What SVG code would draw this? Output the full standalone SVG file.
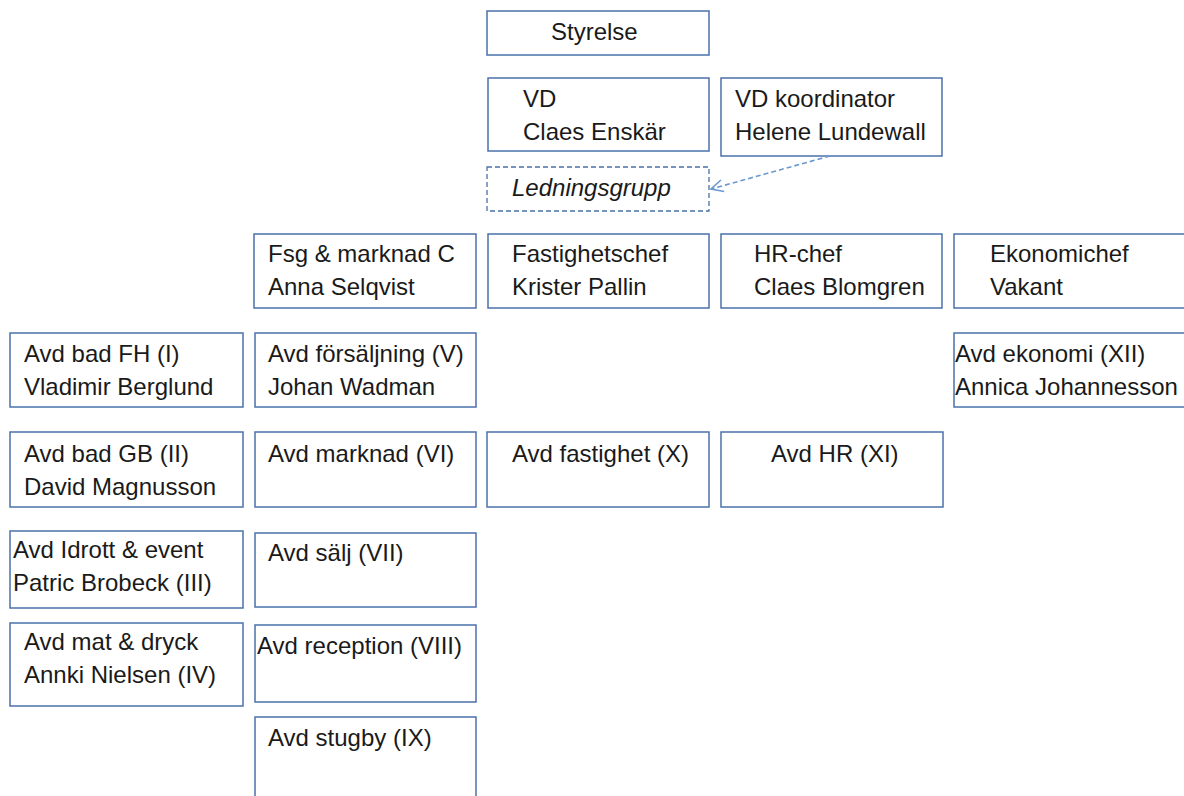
<svg xmlns="http://www.w3.org/2000/svg" width="1184" height="796" viewBox="0 0 1184 796">
  <style>
    .box { fill: #ffffff; stroke: #4a72a8; stroke-width: 1.5; }
    .dash { fill: #ffffff; stroke: #4a72a8; stroke-width: 1.3; stroke-dasharray: 5 3; }
    .t { font-family: "Liberation Sans", Arial, sans-serif; font-size: 24px; fill: #1a1a1a; }
    .it { font-style: italic; }
    .link { fill: none; stroke: #6a99cf; stroke-width: 1.6; stroke-dasharray: 5 3; }
  </style>
  <defs>
    <marker id="open" viewBox="0 0 14 14" refX="13" refY="7" markerWidth="14" markerHeight="14" markerUnits="userSpaceOnUse" orient="auto">
      <path d="M1,1 L13,7 L1,13" fill="none" stroke="#6a99cf" stroke-width="1.6"/>
    </marker>
  </defs>
  <rect width="1184" height="796" fill="#ffffff"/>

  <!-- top management -->
  <g id="styrelse"><rect class="box" x="487" y="11" width="222" height="44"/><text class="t" x="551" y="40">Styrelse</text></g>
  <g id="vd"><rect class="box" x="488" y="78" width="221" height="73"/><text class="t" x="523" y="107">VD</text><text class="t" x="523" y="140">Claes Enskär</text></g>
  <g id="vd-koordinator"><rect class="box" x="721" y="78" width="221" height="78"/><text class="t" x="735" y="107">VD koordinator</text><text class="t" x="735" y="140">Helene Lundewall</text></g>
  <g id="ledningsgrupp"><rect class="dash" x="487" y="167" width="222" height="44"/><text class="t it" x="512" y="196">Ledningsgrupp</text></g>

  <!-- managers -->
  <g id="fsg-marknad"><rect class="box" x="254" y="234" width="222" height="74"/><text class="t" x="268" y="262">Fsg &amp; marknad C</text><text class="t" x="268" y="295">Anna Selqvist</text></g>
  <g id="fastighetschef"><rect class="box" x="488" y="234" width="221" height="74"/><text class="t" x="512" y="262">Fastighetschef</text><text class="t" x="512" y="295">Krister Pallin</text></g>
  <g id="hr-chef"><rect class="box" x="721" y="234" width="221" height="74"/><text class="t" x="754" y="262">HR-chef</text><text class="t" x="754" y="295">Claes Blomgren</text></g>
  <g id="ekonomichef"><rect class="box" x="954" y="234" width="240" height="74"/><text class="t" x="990" y="262">Ekonomichef</text><text class="t" x="990" y="295">Vakant</text></g>

  <!-- departments -->
  <g id="avd-bad-fh"><rect class="box" x="10" y="333" width="233" height="74"/><text class="t" x="24" y="362">Avd bad FH (I)</text><text class="t" x="24" y="395">Vladimir Berglund</text></g>
  <g id="avd-forsaljning"><rect class="box" x="255" y="333" width="221" height="74"/><text class="t" x="268" y="362">Avd försäljning (V)</text><text class="t" x="268" y="395">Johan Wadman</text></g>
  <g id="avd-ekonomi"><rect class="box" x="954" y="333" width="240" height="74"/><text class="t" x="955" y="362">Avd ekonomi (XII)</text><text class="t" x="955" y="395">Annica Johannesson</text></g>

  <g id="avd-bad-gb"><rect class="box" x="10" y="432" width="233" height="75"/><text class="t" x="24" y="462">Avd bad GB (II)</text><text class="t" x="24" y="495">David Magnusson</text></g>
  <g id="avd-marknad"><rect class="box" x="255" y="432" width="221" height="75"/><text class="t" x="268" y="462">Avd marknad (VI)</text></g>
  <g id="avd-fastighet"><rect class="box" x="487" y="432" width="222" height="75"/><text class="t" x="512" y="462">Avd fastighet (X)</text></g>
  <g id="avd-hr"><rect class="box" x="721" y="432" width="222" height="75"/><text class="t" x="771" y="462">Avd HR (XI)</text></g>

  <g id="avd-idrott"><rect class="box" x="10" y="531" width="233" height="77"/><text class="t" x="13" y="558">Avd Idrott &amp; event</text><text class="t" x="13" y="591">Patric Brobeck (III)</text></g>
  <g id="avd-salj"><rect class="box" x="255" y="533" width="221" height="74"/><text class="t" x="268" y="561">Avd sälj (VII)</text></g>

  <g id="avd-mat"><rect class="box" x="10" y="623" width="233" height="83"/><text class="t" x="24" y="650">Avd mat &amp; dryck</text><text class="t" x="24" y="683">Annki Nielsen (IV)</text></g>
  <g id="avd-reception"><rect class="box" x="255" y="625" width="221" height="77"/><text class="t" x="257" y="654">Avd reception (VIII)</text></g>

  <g id="avd-stugby"><rect class="box" x="255" y="717" width="221" height="90"/><text class="t" x="268" y="746">Avd stugby (IX)</text></g>

  <!-- connectors -->
  <g id="connectors">
    <line class="link" x1="830" y1="156" x2="711" y2="189" marker-end="url(#open)"/>
  </g>
</svg>
